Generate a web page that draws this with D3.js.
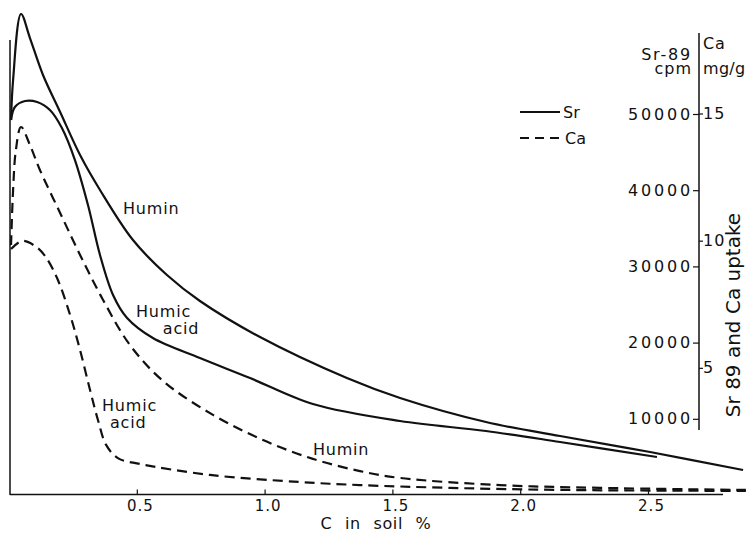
<!DOCTYPE html>
<html>
<head>
<meta charset="utf-8">
<script src="https://cdn.jsdelivr.net/npm/d3@7/dist/d3.min.js"></script>
<style>
  html, body { margin: 0; padding: 0; background: #fff; }
  svg { display: block; font-family: "DejaVu Sans", sans-serif; }
  text { fill: #111; }
</style>
</head>
<body>
<svg id="chart" width="746" height="533"></svg>
<script>
// C in soil (%) against Sr-89 (cpm) and Ca (mg/g) uptake, for humin and humic acid.
const xTicks = [0.5, 1.0, 1.5, 2.0, 2.5];
const srTicks = [10000, 20000, 30000, 40000, 50000];
const caTicks = [5, 10, 15];

// Sr-89 uptake, cpm
const srHuminC = [0.008, 0.016, 0.047, 0.082, 0.133, 0.200, 0.278, 0.356, 0.485, 0.618, 0.747, 0.982, 1.322, 1.530, 1.866, 2.156, 2.508, 2.872];
const srHuminV = [49210, 54460, 63120, 59970, 55120, 50260, 44620, 40030, 33460, 28870, 25460, 20730, 15350, 12730, 9580, 7740, 5640, 3280];
const srHumicC = [0.008, 0.023, 0.063, 0.110, 0.160, 0.207, 0.258, 0.309, 0.356, 0.407, 0.462, 0.563, 0.747, 0.943, 1.189, 1.530, 1.866, 2.156, 2.535];
const srHumicV = [49210, 50920, 51700, 51570, 50520, 48160, 43960, 38060, 31500, 26250, 23230, 20600, 17980, 15350, 11940, 9710, 8400, 6960, 4990];

// Ca uptake, mg/g
const caHuminC = [0.008, 0.016, 0.027, 0.047, 0.082, 0.121, 0.200, 0.278, 0.368, 0.473, 0.603, 0.798, 0.994, 1.189, 1.373, 1.530, 1.921, 2.312, 2.883];
const caHuminV = [9.83, 11.99, 13.57, 14.47, 13.76, 12.78, 11.09, 9.44, 7.67, 5.90, 4.48, 3.15, 2.16, 1.42, 0.94, 0.67, 0.39, 0.28, 0.20];
const caHumicC = [0.008, 0.051, 0.102, 0.141, 0.188, 0.239, 0.278, 0.317, 0.348, 0.380, 0.426, 0.513, 0.786, 1.138, 1.373, 1.725, 2.156, 2.883];
const caHumicV = [9.67, 9.99, 9.79, 9.40, 8.53, 7.08, 5.70, 4.13, 2.95, 1.97, 1.45, 1.22, 0.79, 0.51, 0.39, 0.28, 0.20, 0.16];

const svg = d3.select("#chart");
const INK = "#111";

const x = d3.scaleLinear().domain([0, 2.5]).range([9, 648]);
const ySr = d3.scaleLinear().domain([0, 50000]).range([495, 114]);
const yCa = d3.scaleLinear().domain([0, 15]).range([495, 113.5]);

const zip = (c, v) => c.map((d, i) => [d, v[i]]);

// axes frame
svg.append("line").attr("x1", 10).attr("x2", 10).attr("y1", 40).attr("y2", 495)
  .attr("stroke", INK).attr("stroke-width", 1.5);

const xAxis = svg.append("g").attr("transform", "translate(0,494.5)")
  .call(d3.axisBottom(x).tickValues(xTicks).tickFormat(d3.format(".1f"))
    .tickSizeInner(-5).tickSizeOuter(0).tickPadding(6));
xAxis.select(".domain").remove();
xAxis.append("line").attr("x1", 10).attr("x2", 723).attr("stroke", INK).attr("stroke-width", 1.5);
xAxis.selectAll(".tick line").attr("stroke", INK).attr("stroke-width", 1.2);
xAxis.selectAll(".tick text").attr("font-size", 15).attr("letter-spacing", 1)
  .attr("font-family", "DejaVu Sans").attr("fill", INK).attr("dx", 3);

svg.append("text").attr("x", 376).attr("y", 529).attr("text-anchor", "middle")
  .attr("font-size", 16).attr("word-spacing", 7).attr("letter-spacing", 0.6)
  .text("C in soil %");

// right-hand double axis
const AX = 699;
svg.append("line").attr("x1", AX).attr("x2", AX).attr("y1", 33).attr("y2", 430)
  .attr("stroke", INK).attr("stroke-width", 1.5);

const srAxis = svg.append("g").attr("transform", `translate(${AX},0)`)
  .call(d3.axisLeft(ySr).tickValues(srTicks).tickFormat(d3.format("d"))
    .tickSizeInner(6).tickSizeOuter(0).tickPadding(0));
srAxis.select(".domain").remove();
srAxis.selectAll(".tick line").attr("stroke", INK).attr("stroke-width", 1.2);
srAxis.selectAll(".tick text").attr("font-size", 16).attr("letter-spacing", 2.8)
  .attr("font-family", "DejaVu Sans").attr("fill", INK);

const caAxis = svg.append("g").attr("transform", `translate(${AX},0)`)
  .call(d3.axisRight(yCa).tickValues(caTicks).tickFormat(d3.format("d"))
    .tickSizeInner(4).tickSizeOuter(0).tickPadding(0));
caAxis.select(".domain").remove();
caAxis.selectAll(".tick line").attr("stroke", INK).attr("stroke-width", 1.2);
caAxis.selectAll(".tick text").attr("font-size", 16).attr("letter-spacing", 1)
  .attr("font-family", "DejaVu Sans").attr("fill", INK);

// axis headings, two lines each
const head = (px, anchor, lines) => {
  const t = svg.append("text").attr("text-anchor", anchor).attr("font-size", 16);
  lines.forEach(([txt, py, ls]) => t.append("tspan").attr("x", px).attr("y", py)
    .attr("letter-spacing", ls).text(txt));
};
head(692, "end", [["Sr-89", 60, 1.8], ["cpm", 74, 1]]);
head(703, "start", [["Ca", 49, 0.8], ["mg/g", 74, 0.3]]);

svg.append("text").attr("transform", "translate(740,315) rotate(-90)")
  .attr("text-anchor", "middle").attr("font-size", 20).text("Sr 89 and Ca uptake");

// curves
const smooth = d3.curveCatmullRom.alpha(0.5);
const srLine = d3.line().x(d => x(d[0])).y(d => ySr(d[1])).curve(smooth);
const caLine = d3.line().x(d => x(d[0])).y(d => yCa(d[1])).curve(smooth);

const curves = g => g.attr("fill", "none").attr("stroke", INK).attr("stroke-width", 2.2)
  .attr("stroke-linejoin", "round");

svg.append("path").datum(zip(srHuminC, srHuminV)).attr("d", srLine).call(curves);
svg.append("path").datum(zip(srHumicC, srHumicV)).attr("d", srLine).call(curves);
svg.append("path").datum(zip(caHuminC, caHuminV)).attr("d", caLine).call(curves)
  .attr("stroke-dasharray", "10,6");
svg.append("path").datum(zip(caHumicC, caHumicV)).attr("d", caLine).call(curves)
  .attr("stroke-dasharray", "10,6");

// curve labels (placed in Sr-scale coordinates)
const label = (lines, cx, srv) => {
  const t = svg.append("text").attr("font-size", 16).attr("letter-spacing", 0.8);
  lines.forEach(([txt, dxv, dyv]) => t.append("tspan")
    .attr("x", x(cx + dxv)).attr("y", ySr(srv) + dyv).text(txt));
};
label([["Humin", 0, 0]], 0.446, 36900);
label([["Humic", 0, 0], ["acid", 0.105, 16.5]], 0.497, 23300);
label([["Humic", 0, 0], ["acid", 0.031, 17]], 0.364, 11000);
label([["Humin", 0, 0]], 1.189, 5250);

// legend
const lg = svg.append("g");
lg.append("line").attr("x1", 520).attr("x2", 560).attr("y1", 112).attr("y2", 112)
  .attr("stroke", INK).attr("stroke-width", 2.2);
lg.append("text").attr("x", 563).attr("y", 118).attr("font-size", 16).text("Sr");
lg.append("line").attr("x1", 520).attr("x2", 561).attr("y1", 138).attr("y2", 138)
  .attr("stroke", INK).attr("stroke-width", 2.2).attr("stroke-dasharray", "9,6");
lg.append("text").attr("x", 565).attr("y", 144).attr("font-size", 16).text("Ca");
</script>
</body>
</html>
